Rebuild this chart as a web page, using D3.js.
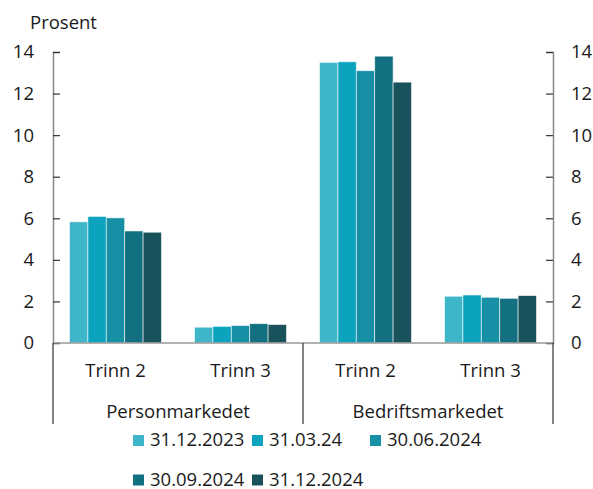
<!DOCTYPE html>
<html>
<head>
<meta charset="utf-8">
<script src="https://cdn.jsdelivr.net/npm/d3@7"></script>
<style>
  html, body { margin: 0; padding: 0; background: #fff; }
  svg text { font-family: "Open Sans", "Noto Sans", sans-serif; fill: #1a1a1a; }
</style>
</head>
<body>
<svg id="chart" width="593" height="489"></svg>
<script>
// Categories: market segment and stage
const markets = ["Personmarkedet", "Bedriftsmarkedet"];
const stages = ["Trinn 2", "Trinn 3"];
const categories = ["Person|Trinn 2", "Person|Trinn 3", "Bedrift|Trinn 2", "Bedrift|Trinn 3"];
const series = ["31.12.2023", "31.03.24", "30.06.2024", "30.09.2024", "31.12.2024"];
const colors = ["#3fb5c9", "#0ba3be", "#1790a6", "#127080", "#1a525b"];

// Share in percent, one array per reporting date (order follows categories)
const v20231231 = [5.83, 0.76, 13.50, 2.25];
const v20240331 = [6.09, 0.80, 13.53, 2.31];
const v20240630 = [6.02, 0.84, 13.10, 2.20];
const v20240930 = [5.39, 0.93, 13.80, 2.15];
const v20241231 = [5.33, 0.89, 12.55, 2.28];
const values = [v20231231, v20240331, v20240630, v20240930, v20241231];

const yTicks = [0, 2, 4, 6, 8, 10, 12, 14];

const FS = 18.5;
const svg = d3.select("#chart");
const mLeft = 53, mRight = 553, mTop = 52, mBottom = 343;

const x0 = d3.scaleBand().domain(categories).range([mLeft, mRight]).paddingInner(0.264).paddingOuter(0.132);
const x1 = d3.scaleBand().domain(series).range([0, x0.bandwidth()]);
const y = d3.scaleLinear().domain([0, 14]).range([mBottom, mTop]);

// Bars
const groups = svg.append("g").selectAll("g")
  .data(categories).join("g")
  .attr("transform", d => `translate(${x0(d)},0)`);
groups.selectAll("rect")
  .data((c, ci) => series.map((s, si) => ({ s, si, v: values[si][ci] })))
  .join("rect")
  .attr("x", d => x1(d.s))
  .attr("y", d => y(d.v))
  .attr("width", x1.bandwidth())
  .attr("height", d => y(0) - y(d.v))
  .attr("fill", d => colors[d.si])
  .attr("stroke", "#ffffff")
  .attr("stroke-opacity", 0.7)
  .attr("stroke-width", 0.8);

// Left and right value axes
const axisL = d3.axisRight(y).tickValues(yTicks).tickSize(7).tickFormat("");
const gL = svg.append("g").attr("transform", `translate(${mLeft},0)`).call(axisL);
const axisR = d3.axisLeft(y).tickValues(yTicks).tickSize(7).tickFormat("");
const gR = svg.append("g").attr("transform", `translate(${mRight},0)`).call(axisR);
[gL, gR].forEach(g => {
  g.select(".domain").attr("stroke", "#888").attr("stroke-width", 1.5);
  g.selectAll(".tick line").attr("stroke", "#333").attr("stroke-width", 1.2);
});

svg.append("g").selectAll("text").data(yTicks).join("text")
  .attr("x", 34).attr("y", d => y(d)).attr("dy", "0.35em")
  .attr("text-anchor", "end").attr("font-size", FS).text(d => d);
svg.append("g").selectAll("text").data(yTicks).join("text")
  .attr("x", 571).attr("y", d => y(d)).attr("dy", "0.35em")
  .attr("text-anchor", "start").attr("font-size", FS).text(d => d);

svg.append("text").attr("x", 30).attr("y", 28.5).attr("font-size", FS).text("Prosent");

// Baseline
svg.append("line").attr("x1", mLeft).attr("x2", mRight).attr("y1", y(0)).attr("y2", y(0))
  .attr("stroke", "#999").attr("stroke-width", 1.5);

// Category axis: stage labels and market labels with separators
const xAxis = d3.axisBottom(x0).tickSize(0).tickFormat(d => d.split("|")[1]);
const gx = svg.append("g").attr("transform", `translate(0,${mBottom})`).call(xAxis);
gx.select(".domain").remove();
gx.selectAll("text").attr("font-size", FS).attr("dy", 0).attr("y", 34)
  .style("font-family", "'Open Sans', 'Noto Sans', sans-serif").attr("fill", "#1a1a1a");

const marketScale = d3.scaleBand().domain(markets).range([mLeft, mRight]);
svg.append("g").selectAll("text").data(markets).join("text")
  .attr("x", d => marketScale(d) + marketScale.bandwidth() / 2)
  .attr("y", 417.5).attr("text-anchor", "middle").attr("font-size", FS).text(d => d);

const seps = [mLeft, mLeft + marketScale.bandwidth(), mRight];
svg.append("g").selectAll("line").data(seps).join("line")
  .attr("x1", d => d).attr("x2", d => d).attr("y1", mBottom).attr("y2", 424)
  .attr("stroke", "#333").attr("stroke-width", 1.2);

// Legend
const legendPos = [[133, 446], [252, 446], [370, 446], [133, 485.5], [252, 485.5]];
const lg = svg.append("g").selectAll("g").data(series).join("g")
  .attr("transform", (d, i) => `translate(${legendPos[i][0]},${legendPos[i][1]})`);
lg.append("rect").attr("x", 0).attr("y", -11).attr("width", 11).attr("height", 11)
  .attr("fill", (d, i) => colors[i]);
lg.append("text").attr("x", 17).attr("y", 0).attr("font-size", FS).text(d => d);
</script>
</body>
</html>
